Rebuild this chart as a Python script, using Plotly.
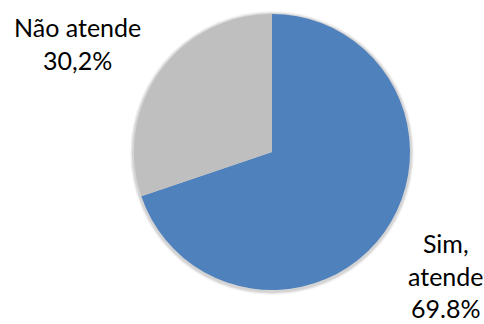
import plotly.graph_objects as go

categories = ["Sim, atende", "Não atende"]
values = [69.8, 30.2]
label_texts = ["Sim,<br>atende<br>69.8%", "Não atende<br>30,2%"]
colors = ["#4F81BD", "#BFBFBF"]

W, H = 484, 324
cx, cy, r = 272, 152, 138

def dom(cx, cy, r):
    return dict(x=[(cx - r) / W, (cx + r) / W], y=[1 - (cy + r) / H, 1 - (cy - r) / H])

fig = go.Figure()
# soft shadow
for k, op in [(4, 0.04), (3, 0.06), (2, 0.08)]:
    fig.add_trace(go.Pie(values=[1], marker=dict(colors=["#000000"], line=dict(width=0)),
                         opacity=op, domain=dom(cx, cy + 1, r + k), textinfo="none",
                         hoverinfo="skip", showlegend=False, sort=False))
fig.add_trace(go.Pie(
    labels=categories, values=values, sort=False, direction="clockwise", rotation=0,
    marker=dict(colors=colors, line=dict(width=0)),
    textinfo="none", showlegend=False, domain=dom(cx, cy, r),
))

font = dict(family="Lato, Carlito, Calibri, sans-serif", size=25, color="#000000")
fig.add_annotation(x=446 / W, y=1 - 275 / H, xref="paper", yref="paper", text=label_texts[0],
                   showarrow=False, font=font, align="center", xanchor="center", yanchor="middle")
fig.add_annotation(x=77 / W, y=1 - 43 / H, xref="paper", yref="paper", text=label_texts[1],
                   showarrow=False, font=font, align="center", xanchor="center", yanchor="middle")

fig.update_layout(width=W, height=H, margin=dict(l=0, r=0, t=0, b=0),
                  paper_bgcolor="white", plot_bgcolor="white")
fig.write_html("out.html")
